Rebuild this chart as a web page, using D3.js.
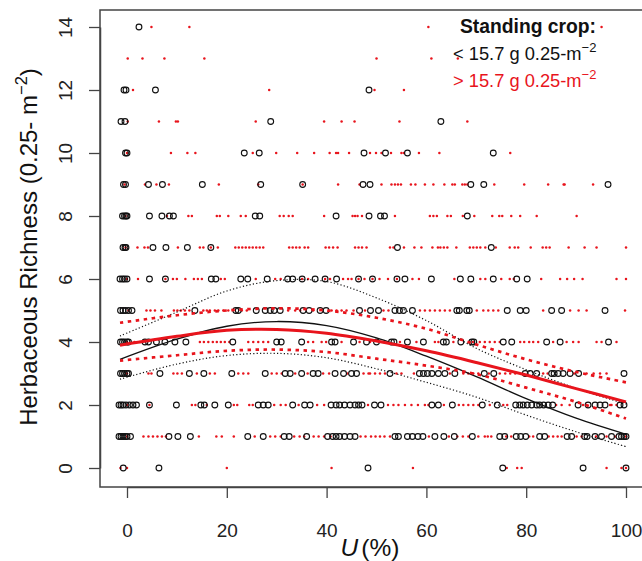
<!DOCTYPE html>
<html>
<head>
<meta charset="utf-8">
<script src="https://cdn.jsdelivr.net/npm/d3@7"></script>
<style>
  body { margin: 0; background: #fff; }
  svg text { font-family: "Liberation Sans", Arial, sans-serif; }
</style>
</head>
<body>
<svg id="chart" width="642" height="561"></svg>
<script>
// richness rows 0..14, U(%) of each plot in that row
const richness = d3.range(0, 15)

// standing crop < 15.7 g (open black circles)
const lowU = [
  [-0.75, 6.4, 48.3, 75.3, 91.4, 100],
  [-1.6, -1.2, -0.8, -0.4, 0, 0.7, 8.4, 10.2, 12.7, 24.2, 27.3, 31.5, 32.5, 36, 40.2, 41.2, 41.9, 42.6, 43.6, 44.7, 45.7,
   53.7, 54.4, 56.2, 57.2, 58.3, 59.3, 61.7, 63.5, 65.6, 69.2, 74.7, 75.7, 78, 78.9, 79.9, 82.7, 83.7, 88.2, 89.1,
   91.7, 92.2, 93.8, 95.1, 97.1, 98.6, 99.1, 99.6, 100],
  [-1.6, -1.2, -0.8, -0.2, 0.5, 1.2, 1.9, 4.5, 9.9, 14.8, 15.5, 17.6, 20.3, 26.3, 27.3, 28.3, 33.2, 35.6, 36.7, 40.9,
   41.9, 42.6, 43.6, 44.7, 45.7, 46.4, 47.1, 49.6, 50.9, 61.1, 62.4, 65.2, 71.2, 74.2, 77.9, 78.7, 79.4, 80.2, 81.1,
   82.1, 82.7, 83.5, 84.4, 85.3, 90.4, 92.4, 93.8, 94.8, 95.8, 98.8, 99.6],
  [-1.3, -0.9, -0.5, 0, 0.3, 6.6, 12.5, 15.4, 21, 27.7, 31.7, 32.7, 35, 37.3, 38.3, 41.7, 43.4, 45, 46, 52.7, 58.6,
   59.4, 60.2, 61.1, 62.4, 63.7, 65.7, 71.6, 73.5, 79.8, 80.8, 82.1, 85.1, 85.6, 86.4, 87.4, 88.8, 90.5, 99.6],
  [-1.3, -0.9, -0.5, 0, 0.3, 3.6, 4.3, 5.9, 7.6, 9.6, 11.8, 21.2, 30, 30.9, 35, 41, 41.7, 45.4, 48, 50, 53, 53.5,
   56.2, 59.4, 63.4, 64, 66.9, 69.1, 69.5, 75.4, 77.1, 84.1, 86.8, 96.5],
  [-1.3, -0.8, -0.3, 0.3, 1.0, 13.6, 21.8, 22.3, 25.9, 27.7, 28.7, 29.5, 30.7, 35.3, 36.5, 38.7, 39.9, 46.6, 48.8,
   50.4, 53.7, 54.6, 55.4, 57.2, 66.1, 66.6, 68.1, 68.6, 76.2, 78.8, 80, 85.1, 87.1, 95.8],
  [-1.4, -0.9, -0.5, 0, 4.5, 7.7, 16.9, 17.8, 22.8, 24.2, 28.1, 32.2, 33.2, 35.1, 37.7, 39.7, 42, 46.4, 49.2, 54.1,
   55.7, 61, 66.8, 68.9, 73.4, 78.1, 80.2],
  [-0.8, -0.4, -0.2, 5.2, 7.8, 12.1, 16.8, 54.2, 73],
  [-0.9, -0.5, -0.2, 0, 4.5, 7, 8.5, 9.3, 25.7, 26.6, 41.9, 48.5, 50.8, 51.6, 68.2],
  [-0.7, -0.3, 4.3, 7.1, 15.1, 26.8, 35.2, 47.3, 48.7, 68.9, 71.5, 96.4],
  [-0.3, 0, 23.5, 26.5, 47.5, 51.8, 56.2, 73.4],
  [-1.2, -0.4, 28.8, 62.9],
  [-0.6, -0.2, 5.7, 48.5],
  [],
  [2.4]
]

// standing crop > 15.7 g (small red dots)
const highU = [
  [-1.3, 0, 20, 41, 57.3, 76.1, 78.2, 79.1, 96.1, 99.1, 100],
  [0, 3.3, 4.3, 5.2, 6.1, 7, 7.8, 14.4, 17.9, 19, 21.4, 25.6, 28.7, 29.7, 30.8, 33.5, 34.6, 35.5, 37.4, 38.4, 39.5,
   40.8, 46.8, 47.8, 48.9, 49.8, 50.7, 51.6, 52.7, 60.5, 64.5, 66.2, 67.3, 68.4, 70.4, 71.7, 72.3, 73, 76, 77, 80.6,
   81.4, 84.5, 85.4, 86.3, 87.1, 90.1, 91.1, 94, 96.1, 97.8, 100],
  [0, 4.5, 13, 13.7, 16, 21.4, 22.1, 24.5, 25.2, 29.5, 30.8, 31.8, 34.4, 38.1, 39.5, 48.3, 52.3, 53.4, 54.4, 55.7,
   57, 58.3, 59.7, 60.4, 63.5, 66.5, 67.4, 68.4, 69.4, 70.4, 72.7, 75.4, 76.2, 86, 87.1, 88.7, 91.4, 96.8, 97.1, 98.1],
  [0, 4.3, 4.9, 9.3, 10.1, 11, 14, 16.6, 17.6, 22.3, 23.3, 24.3, 29, 30, 31, 33.7, 36.2, 39.3, 40.5, 44.2, 47.4,
   48.4, 48.7, 49.7, 50.7, 51.7, 54, 55, 57.5, 64.7, 67.4, 68.4, 69.4, 70.4, 72.5, 74.7, 75.8, 76.8, 77.8, 83.4,
   84.3, 89.6, 92.1, 93.5, 94.8, 96.1],
  [0, 1.5, 2.6, 14.6, 15.4, 16.3, 17.2, 18, 18.8, 19.6, 20.5, 24.3, 25.3, 26.3, 27.3, 28.3, 36.3, 37.3, 39, 39.9, 43,
   46.6, 48.7, 51.4, 54.7, 58, 61.7, 62.4, 65.4, 69.3, 70.7, 71.7, 72.7, 73.7, 74.7, 78.8, 79.6, 80.6, 81.4, 82.4,
   85.4, 88.1, 89.4, 90.5, 94.1, 95.1, 98.1],
  [0.3, 3.9, 4.7, 5.6, 6.9, 9.4, 10.1, 10.8, 11.6, 12.5, 15.3, 16, 16.6, 17.6, 18.3, 19.3, 20.3, 23, 24, 32.3, 33.7,
   34.7, 37.3, 41, 42, 43, 44, 45.4, 47.7, 51.4, 52.4, 58.7, 59.7, 60.7, 61.7, 62.7, 63.7, 64.7, 70.1, 71.4, 72.4,
   73.4, 74.4, 83.4, 88.8, 90.5, 92.1, 99.8],
  [0, 2.2, 7.7, 9.2, 10, 11.7, 13.4, 14.2, 15, 18.8, 19.6, 25.8, 29.7, 30.8, 35.1, 36.3, 39.7, 40.7, 43.3, 44.3, 45,
   46.4, 47.6, 49.2, 50.6, 52.3, 54.1, 57.2, 58.5, 65.6, 70.8, 71.8, 75, 76.7, 77.5, 83, 86.8, 88.2, 89.6, 91.3,
   98.1, 100],
  [-0.3, 2.1, 3.5, 4.2, 10.2, 14.6, 15.3, 16.8, 18.2, 21.7, 22.4, 23.1, 23.8, 24.5, 25.2, 25.9, 26.6, 27.3, 32.5,
   33.2, 33.9, 34.6, 35.6, 36.3, 39.8, 40.5, 41.3, 42.2, 45.7, 46.4, 47.1, 48, 52.7, 53.4, 55.5, 57.6, 59, 61.2,
   62.3, 62.8, 63.5, 64.2, 66, 68.7, 69.4, 70.1, 70.8, 71.8, 73.9, 76.7, 77.7, 78.4, 80.9, 83.3, 84, 84.7, 88.5,
   91.7, 94.1, 100],
  [-0.3, 8, 12.3, 13, 18, 18.6, 20.3, 22.8, 23.8, 30.6, 31.4, 32.4, 33.2, 39.5, 45.2, 45.7, 46.2, 47.1, 53.7, 60.7,
   61.4, 62.1, 64.2, 64.9, 67.3, 69.6, 73.2, 74.6, 75.2, 77, 78.8, 82.1, 90.1],
  [-0.5, 3.6, 5.9, 8.4, 18.4, 26.3, 35.2, 42.3, 46.6, 51, 53, 53.7, 54.3, 54.9, 56.9, 57.8, 59.7, 61.4, 63.6, 65.2,
   65.7, 67.2, 67.7, 68.2, 73.6, 79.6, 84.4, 87.5, 87.7, 93.4],
  [0, 8.8, 12.1, 13.7, 25.2, 29.9, 34.1, 37.5, 40.6, 41.9, 42.3, 44.5, 48.7, 49.9, 51, 52.9, 55, 55.5, 58.5, 62.6, 76.8],
  [0.15, 6.4, 9.8, 10.2, 25.8, 39.5, 43, 45.6, 54.6, 68.2],
  [1.2, 28.5, 49.6, 55.5],
  [0.15, 3.1, 7.5, 15.5, 50, 61, 66.3],
  [4.9, 12.5, 60.4, 95.1]
]

// fitted curves and their confidence bands, read at these U values
const fitU      = [-1.4, 10, 20, 30, 40, 50, 60, 70, 80, 90, 100]
const lowFit    = [3.45, 4.09, 4.5, 4.65, 4.52, 4.13, 3.55, 2.9, 2.2, 1.58, 1.07]
const lowUpper  = [4.19, 4.95, 5.62, 5.95, 5.92, 5.4, 4.68, 3.8, 3.12, 2.53, 2.03]
const lowLower  = [2.82, 3.3, 3.57, 3.64, 3.5, 3.15, 2.72, 2.25, 1.68, 1.15, 0.68]
const highFit   = [3.9, 4.18, 4.37, 4.4, 4.28, 4.03, 3.72, 3.35, 2.95, 2.52, 2.1]
const highUpper = [4.61, 4.85, 5.0, 5.07, 5.0, 4.77, 4.42, 3.92, 3.45, 3.05, 2.72]
const highLower = [3.41, 3.58, 3.72, 3.76, 3.68, 3.47, 3.25, 2.98, 2.55, 2.1, 1.57]

const xTicks = [0, 20, 40, 60, 80, 100]
const yTicks = [0, 2, 4, 6, 8, 10, 12, 14]

const box = {left: 100, top: 10, right: 646, bottom: 487}
const svg = d3.select('#chart')

const x = d3.scaleLinear().domain([0, 100]).range([127, 626])
const y = d3.scaleLinear().domain([0, 14]).range([468, 27])

// points
const toPts = rows => rows.flatMap((us, i) => us.map(u => ({u: u, r: richness[i]})))

svg.append('g')
    .selectAll('circle')
    .data(toPts(highU))
    .enter().append('circle')
    .attr('cx', d => x(d.u))
    .attr('cy', d => y(d.r))
    .attr('r', 1.25)
    .attr('fill', '#e8141c')

svg.append('g')
    .selectAll('circle')
    .data(toPts(lowU))
    .enter().append('circle')
    .attr('cx', d => x(d.u))
    .attr('cy', d => y(d.r))
    .attr('r', 2.9)
    .attr('fill', 'none')
    .attr('stroke', '#111')
    .attr('stroke-width', 1.1)

// curves
const line = d3.line()
    .x((d, i) => x(fitU[i]))
    .y(d => y(d))
    .curve(d3.curveCatmullRom)

const curves = [
  {v: lowUpper, color: '#111', w: 1.2, dash: '1.2,2.2'},
  {v: lowLower, color: '#111', w: 1.2, dash: '1.2,2.2'},
  {v: lowFit, color: '#111', w: 1.3, dash: null},
  {v: highUpper, color: '#e8141c', w: 2.7, dash: '3.5,4.5'},
  {v: highLower, color: '#e8141c', w: 2.7, dash: '3.5,4.5'},
  {v: highFit, color: '#e8141c', w: 3, dash: null}
]
curves.forEach(c => {
  svg.append('path')
      .datum(c.v)
      .attr('d', line)
      .attr('fill', 'none')
      .attr('stroke', c.color)
      .attr('stroke-width', c.w)
      .attr('stroke-dasharray', c.dash)
})

// frame
svg.append('rect')
    .attr('x', box.left)
    .attr('y', box.top)
    .attr('width', box.right - box.left)
    .attr('height', box.bottom - box.top)
    .attr('fill', 'none')
    .attr('stroke', '#444')
    .attr('stroke-width', 1.5)

// axes
const xAxis = svg.append('g')
    .attr('transform', `translate(0,${box.bottom})`)
    .call(d3.axisBottom(x).tickValues(xTicks).tickSize(11).tickSizeOuter(0))
xAxis.select('.domain').attr('stroke', '#444').attr('stroke-width', 1.5)
xAxis.selectAll('.tick line').attr('stroke', '#444').attr('stroke-width', 1.3)
xAxis.selectAll('.tick text')
    .attr('y', 50)
    .attr('dy', 0)
    .attr('fill', '#222')
    .style('font-size', '19px')

const yAxis = svg.append('g')
    .attr('transform', `translate(${box.left},0)`)
    .call(d3.axisLeft(y).tickValues(yTicks).tickSize(11).tickSizeOuter(0))
yAxis.select('.domain').attr('stroke', '#444').attr('stroke-width', 1.5)
yAxis.selectAll('.tick line').attr('stroke', '#444').attr('stroke-width', 1.3)
yAxis.selectAll('.tick text')
    .attr('transform', 'rotate(-90)')
    .attr('x', 0)
    .attr('y', -28)
    .attr('dy', 0)
    .attr('text-anchor', 'middle')
    .attr('fill', '#222')
    .style('font-size', '19px')

// axis titles
const yTitle = svg.append('text')
    .attr('transform', 'translate(37,247) rotate(-90)')
    .attr('text-anchor', 'middle')
    .style('font-size', '24px')
    .attr('fill', '#111')
yTitle.append('tspan').text('Herbaceous Richness (0.25- m')
yTitle.append('tspan').text('\u22122').attr('dy', -10).style('font-size', '16.5px')
yTitle.append('tspan').text(')').attr('dy', 10)

const xTitle = svg.append('text')
    .attr('x', 370)
    .attr('y', 556)
    .attr('text-anchor', 'middle')
    .style('font-size', '24.5px')
    .attr('fill', '#111')
xTitle.append('tspan').text('U').style('font-style', 'italic')
xTitle.append('tspan').text('(%)').attr('dx', 3)

// legend
const legend = svg.append('g')
legend.append('text')
    .attr('x', 528)
    .attr('y', 33)
    .attr('text-anchor', 'middle')
    .style('font-size', '19.3px')
    .style('font-weight', 'bold')
    .attr('fill', '#111')
    .text('Standing crop:')

const legendRows = [
  {label: '< 15.7 g 0.25-m', color: '#111', yPos: 60},
  {label: '> 15.7 g 0.25-m', color: '#e8141c', yPos: 87}
]
legendRows.forEach(row => {
  const t = legend.append('text')
      .attr('x', 453)
      .attr('y', row.yPos)
      .style('font-size', '18.3px')
      .attr('fill', row.color)
  t.append('tspan').text(row.label)
  t.append('tspan').text('\u22122').attr('dy', -8).style('font-size', '13px')
})
</script>
</body>
</html>
